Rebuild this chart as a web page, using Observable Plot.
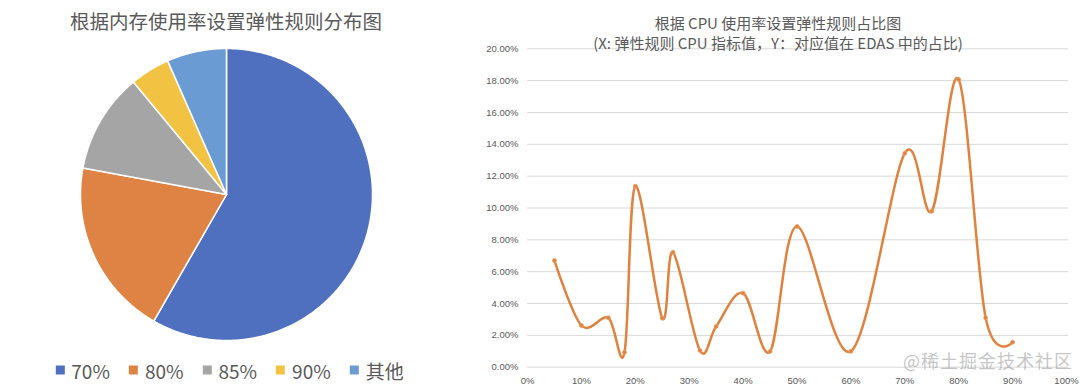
<!DOCTYPE html>
<html>
<head>
<meta charset="utf-8">
<script src="https://cdn.jsdelivr.net/npm/d3@7"></script>
<script src="https://cdn.jsdelivr.net/npm/@observablehq/plot@0.6"></script>
<style>
  html, body { margin: 0; padding: 0; background: #fff; }
  #root { position: relative; width: 1080px; height: 391px; overflow: hidden; background: #fff;
    font-family: "Noto Sans CJK SC", "Noto Sans", sans-serif; color: #595959; }
  .ttl { position: absolute; transform: translate(-50%, -50%); white-space: nowrap; line-height: 1; color: #595959; }
  #legend { position: absolute; top: 370px; left: 229.5px; transform: translate(-50%, -50%);
    display: flex; gap: 19px; align-items: center; white-space: nowrap; font-size: 19px; line-height: 1; color: #595959; }
  #legend .item { display: flex; align-items: center; gap: 7px; }
  #legend .sw { width: 9px; height: 9px; display: inline-block; }
  .wm { position: absolute; left: 988px; top: 360px; transform: translate(-50%, -50%); font-size: 18px;
    color: rgba(140,140,140,0.5); white-space: nowrap; line-height: 1; letter-spacing: 1px; }
  #pie, #line { position: absolute; }
</style>
</head>
<body>
<div id="root">
  <div class="ttl" style="left:226px;top:21px;font-size:19.5px;">根据内存使用率设置弹性规则分布图</div>
  <div id="pie" style="left:80px;top:48px;"></div>
  <div id="legend"></div>
  <div id="line" style="left:460px;top:0px;"></div>
  <div class="ttl" style="left:778px;top:21.5px;font-size:15px;">根据 CPU 使用率设置弹性规则占比图</div>
  <div class="ttl" style="left:778px;top:42px;font-size:15px;">(X: 弹性规则 CPU 指标值，Y：对应值在 EDAS 中的占比)</div>
  <div class="wm">@稀土掘金技术社区</div>
</div>
<script>
// ---- Pie data (memory usage rules) ----
const pieCategories = ["70%", "80%", "85%", "90%", "其他"];
const pieValues = [58.3, 19.6, 11.1, 4.4, 6.6];
const pieColors = ["#4e70be", "#de8344", "#a5a5a5", "#f2c243", "#6a9bd3"];

// ---- Line data (CPU usage rules) ----
const cpuX = [5, 10, 15, 18, 20, 25, 27, 32, 35, 40, 45, 50, 60, 70, 75, 80, 85, 90];
const cpuY = [6.70, 2.62, 3.10, 0.94, 11.37, 3.08, 7.22, 1.05, 2.56, 4.65, 0.99, 8.84, 1.00, 13.44, 9.80, 18.07, 3.10, 1.57];
const xTicks = [0, 10, 20, 30, 40, 50, 60, 70, 80, 90, 100];
const yTicks = [0, 2, 4, 6, 8, 10, 12, 14, 16, 18, 20];

// Build slice polygons from values
const total = d3.sum(pieValues);
const slicePts = [];
let acc = 0;
pieCategories.forEach((cat, i) => {
  const a0 = acc / total * 2 * Math.PI;
  acc += pieValues[i];
  const a1 = acc / total * 2 * Math.PI;
  slicePts.push({cat, x: 0, y: 0});
  const n = Math.max(2, Math.ceil((a1 - a0) / (Math.PI / 360)));
  for (let k = 0; k <= n; k++) {
    const a = a0 + (a1 - a0) * k / n;
    slicePts.push({cat, x: Math.sin(a), y: Math.cos(a)});
  }
  slicePts.push({cat, x: 0, y: 0});
});

const pie = Plot.plot({
  width: 292, height: 292, margin: 0,
  x: {domain: [-1, 1], axis: null},
  y: {domain: [-1, 1], axis: null},
  color: {domain: pieCategories, range: pieColors},
  marks: [
    Plot.line(slicePts, {x: "x", y: "y", z: "cat", fill: "cat", stroke: "white", strokeWidth: 1.5, strokeLinejoin: "round", curve: "linear"})
  ]
});
document.getElementById("pie").appendChild(pie);

// Legend
const leg = document.getElementById("legend");
pieCategories.forEach((c, i) => {
  const it = document.createElement("div");
  it.className = "item";
  const sw = document.createElement("span");
  sw.className = "sw";
  sw.style.background = pieColors[i];
  const tx = document.createElement("span");
  tx.textContent = c;
  it.appendChild(sw); it.appendChild(tx);
  leg.appendChild(it);
});

// Line chart
const cpuData = cpuX.map((x, i) => ({x, y: cpuY[i]}));
const lineColor = "#e0823d";
const chart = Plot.plot({
  width: 620, height: 391,
  marginLeft: 67, marginRight: 14, marginTop: 48.3, marginBottom: 24.3,
  style: {fontFamily: "'Liberation Sans', Arial, sans-serif", fontSize: "9.5px", color: "#595959", background: "transparent"},
  x: {domain: [0, 100], label: null},
  y: {domain: [0, 20], label: null},
  marks: [
    Plot.gridY(yTicks, {stroke: "#d9d9d9", strokeOpacity: 1, strokeWidth: 1, x1: 0, x2: 100.4}),
    Plot.axisY(yTicks, {label: null, tickSize: 0, tickPadding: 9, tickFormat: d => d.toFixed(2) + "%", fill: "#595959", fontSize: 9.5}),
    Plot.axisX(xTicks, {label: null, tickSize: 0, tickPadding: 10, tickFormat: d => d + "%", fill: "#595959", fontSize: 9.5}),
    Plot.line(cpuData, {x: "x", y: "y", stroke: lineColor, strokeWidth: 2.5, curve: "cardinal"}),
    Plot.dot(cpuData, {x: "x", y: "y", r: 2, fill: lineColor, stroke: "#eaa06a", strokeWidth: 0.8})
  ]
});
document.getElementById("line").appendChild(chart);
</script>
</body>
</html>
